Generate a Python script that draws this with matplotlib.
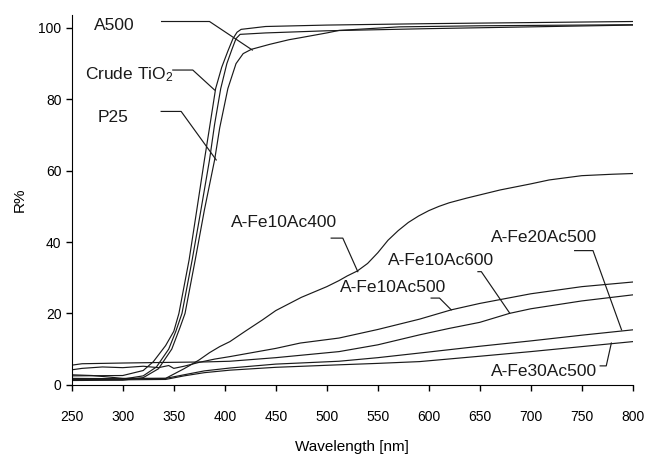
import matplotlib
matplotlib.use('Agg')
import matplotlib.pyplot as plt

plt.rcParams['font.family'] = ['Liberation Sans', 'DejaVu Sans']
plt.rcParams['mathtext.fontset'] = 'custom'
plt.rcParams['mathtext.rm'] = 'Liberation Sans'
plt.rcParams['mathtext.it'] = 'Liberation Sans'

# reflectance spectra, (wavelength nm, R%)
crude_x = [250, 300, 320, 330, 342, 350, 355, 365, 372, 380, 385, 391, 397, 403, 408, 412, 416, 440, 500, 600, 700, 800]
crude_y = [2.5, 2.6, 4.0, 6.5, 11, 15, 20, 35, 48, 63, 72, 83, 89, 93.5, 97, 98.8, 99.6, 100.4, 100.8, 101.2, 101.5, 101.8]

p25_x = [250, 300, 320, 333, 345, 352, 358, 368, 376, 385, 390, 396, 402, 407, 411, 415, 440, 500, 600, 700, 800]
p25_y = [1.5, 1.6, 2.5, 5, 10, 15, 20, 35, 48, 63, 73, 83, 90, 94, 97, 98.2, 98.6, 99.2, 99.8, 100.3, 100.8]

a500_x = [250, 300, 320, 335, 348, 356, 361, 371, 380, 390, 395, 403, 411, 418, 426, 444, 463, 473, 500, 512, 571, 650, 800]
a500_y = [1.2, 1.3, 2.0, 4.5, 10, 16, 20, 35, 49, 63, 72, 83, 90, 92.8, 94, 95.4, 96.7, 97.2, 98.6, 99.3, 100.3, 100.6, 100.9]

fe10_400_x = [250, 300, 342, 350, 360, 368, 375, 385, 395, 405, 420, 437, 450, 475, 500, 512, 520, 530, 540, 550, 560,
              570, 580, 590, 600, 610, 620, 637, 670, 700, 718, 750, 780, 800]
fe10_400_y = [1.8, 1.7, 1.8, 3, 4.5, 5.8, 7, 9, 10.7, 12.1, 15, 18.2, 20.8, 24.5, 27.5, 29.2, 30.5, 31.9, 34, 37, 40.5,
              43.2, 45.5, 47.3, 48.8, 50, 51, 52.3, 54.6, 56.3, 57.4, 58.6, 59, 59.2]

fe10_500_x = [250, 260, 280, 300, 320, 335, 345, 350, 360, 375, 390, 405, 450, 474, 512, 550, 591, 622, 650, 700, 750, 800]
fe10_500_y = [4.2, 4.6, 5.0, 4.8, 5.2, 4.8, 5.4, 4.6, 5.2, 6.3, 7.2, 7.9, 10.2, 11.7, 13.1, 15.5, 18.4, 21, 22.8, 25.5, 27.5, 28.8]

fe10_600_x = [250, 260, 300, 350, 380, 405, 450, 512, 550, 591, 620, 650, 679, 700, 750, 800]
fe10_600_y = [5.5, 5.9, 6.1, 6.3, 6.4, 6.6, 7.6, 9.3, 11.2, 14, 15.8, 17.5, 20, 21.3, 23.5, 25.2]

fe20_500_x = [250, 270, 300, 342, 360, 380, 405, 450, 512, 550, 591, 650, 700, 750, 800]
fe20_500_y = [2.8, 2.6, 1.8, 1.8, 2.8, 3.9, 4.7, 5.8, 6.6, 7.6, 8.9, 10.8, 12.3, 13.9, 15.4]

fe30_500_x = [250, 300, 342, 360, 380, 405, 450, 512, 550, 591, 650, 700, 750, 800]
fe30_500_y = [1.5, 1.4, 1.5, 2.5, 3.4, 4.1, 4.9, 5.6, 6.0, 6.5, 8.0, 9.3, 10.7, 12.1]

series = [
    (crude_x, crude_y), (p25_x, p25_y), (a500_x, a500_y),
    (fe10_400_x, fe10_400_y), (fe10_500_x, fe10_500_y), (fe10_600_x, fe10_600_y),
    (fe20_500_x, fe20_500_y), (fe30_500_x, fe30_500_y),
]

# labels: text, text anchor (x, y, ha), leader line points
labels = [
    ('A500', 272, 100.8, 'left', [(338, 101.8), (385, 101.8), (427, 93.8)]),
    ('Crude TiO$_2$', 262.5, 86.8, 'left', [(349, 88.2), (368.6, 88.2), (390, 82.6)]),
    ('P25', 275, 75.0, 'left', [(337.6, 76.6), (357.2, 76.6), (391.6, 63)]),
    ('A-Fe10Ac400', 510.5, 45.4, 'right', [(504.3, 41.1), (515.7, 41.1), (530.4, 31.7)]),
    ('A-Fe10Ac600', 559.8, 34.9, 'left', [(648.2, 31.7), (651.5, 31.7), (679.3, 20.1)]),
    ('A-Fe10Ac500', 512.5, 27.3, 'left', [(602.3, 24.3), (610.5, 24.3), (622, 21)]),
    ('A-Fe20Ac500', 661.2, 41.3, 'left', [(743, 37.6), (761, 37.6), (789, 15.4)]),
    ('A-Fe30Ac500', 661.2, 3.8, 'left', [(768, 5.3), (774, 5.3), (779, 11.7)]),
]

fig = plt.figure(figsize=(6.47, 4.57), dpi=100)
ax = fig.add_axes([0.111, 0.158, 0.867, 0.809])

for x, y in series:
    ax.plot(x, y, color='#1a1a1a', lw=0.85)

for text, tx, ty, ha, pts in labels:
    ax.text(tx, ty, text, ha=ha, va='center', fontsize=12.5, color='#1a1a1a')
    ax.plot([p[0] for p in pts], [p[1] for p in pts], color='#1a1a1a', lw=0.85)

ax.set_xlim(250, 800)
ax.set_ylim(0, 103.6)
ax.set_xticks(range(250, 801, 50))
ax.set_yticks(range(0, 101, 20))
ax.spines['top'].set_visible(False)
ax.spines['right'].set_visible(False)
ax.tick_params(axis='x', direction='out', length=4.5, width=1, pad=14, labelsize=10)
ax.tick_params(axis='y', direction='out', length=4, width=1, pad=3.5, labelsize=10)
ax.set_xlabel('Wavelength [nm]', fontsize=11, labelpad=11)
ax.set_ylabel('R%', fontsize=11, labelpad=8)

fig.savefig('out.png', dpi=100)
